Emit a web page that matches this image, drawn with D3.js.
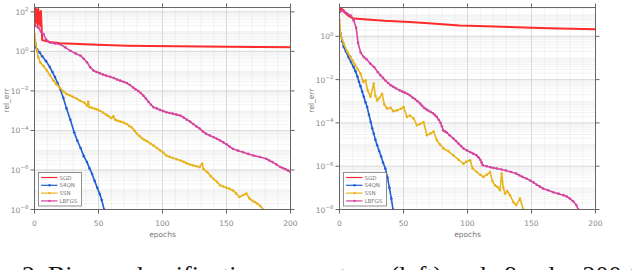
<!DOCTYPE html>
<html>
<head>
<meta charset="utf-8">
<script src="https://cdn.jsdelivr.net/npm/d3@7"></script>
<style>
	body { margin: 0; background: #fff; }
	svg text { font-family: "DejaVu Sans", sans-serif; }
	svg text.caption { font-family: "Liberation Serif", serif; }
</style>
</head>
<body>
<div id="chart-area"></div>
<script>

// SVG Size
let width = 632,
	height = 270;

// series names + colours (legend order)
let methods = ["SGD", "S4QN", "SSN", "LBFGS"];
let colors = ["#ff2a2a", "#1f5fd6", "#e8b41c", "#d5469f"];

// x ticks (epochs)
let xTicks = [0, 50, 100, 150, 200];

// left panel, [epoch, rel_err]
let sgdLeft = [[0,150],[0.5,22],[1,160],[1.5,30],[2,120],[2.5,21],[3,140],[3.5,26],[4,95],[4.5,20],[5,110],[5.5,21],
	[6,3.7],[9,3.3],[12,3.0],[20,2.6],[30,2.45],[40,2.3],[55,2.1],[73,1.95],[90,1.85],[110,1.8],[130,1.75],[150,1.7],[175,1.65],[200,1.6]];
let saqnLeft = [[0,2.0],[2,1.26],[4,0.89],[6,0.56],[9,0.32],[12,0.16],[14,0.09],[16,0.05],[18,0.025],[20,0.0126],[22.5,0.0045],[25,1.3e-3],
	[28,3.5e-4],[31,8e-5],[33.5,3e-5],[36,1.3e-5],[38.5,5e-6],[41,2.5e-6],[43,1.2e-6],[45,6.3e-7],[47,2.8e-7],[49,1.26e-7],[51,6e-8],[52.5,3e-8],[54.4,1e-8]];
let ssnLeft = [[0,7.6],[1,2.5],[2,1.07],[3,0.5],[4.4,0.28],[7,0.18],[9.7,0.107],[12,0.063],[14.8,0.033],[17,0.022],[20,0.014],[22.5,0.0095],
	[25,0.007],[27.5,0.006],[30,0.005],[33,0.004],[35.6,0.0032],[39,0.0025],[41,0.0018],[42,0.0028],[43,0.0015],[45,0.0014],[47,0.00126],[49,0.00115],
	[51,0.001],[53.5,8e-4],[56,6.3e-4],[58,5.2e-4],[60,4.2e-4],[61.6,5.2e-4],[63,3.5e-4],[65,3.1e-4],[67,2.8e-4],[69.5,2.5e-4],[72,2.1e-4],[74,1.7e-4],
	[76,1.4e-4],[78,1e-4],[80,6.8e-5],[82,5.2e-5],[84,4e-5],[86,3.3e-5],[88,2.8e-5],[90.5,2.2e-5],[93,1.7e-5],[95.5,1.3e-5],[98,1e-5],[100.5,7.5e-6],
	[103,5.4e-6],[105.5,4.6e-6],[108,4e-6],[111,3.5e-6],[114,3e-6],[116.5,2.6e-6],[119,2.2e-6],[121.5,1.9e-6],[124,1.7e-6],[126.5,1.55e-6],[129,1.4e-6],
	[131,2.1e-6],[132,1.1e-6],[135,7.8e-7],[137.5,5e-7],[140,3.5e-7],[142.5,2.5e-7],[145,1.7e-7],[147.5,1.45e-7],[150,1.26e-7],[152.5,1.1e-7],
	[155,9.3e-8],[157.5,6.5e-8],[160,4.3e-8],[163,5.4e-8],[165.5,6.5e-8],[168,3.6e-8],[170,2.8e-8],[172,2.4e-8],[174,2e-8],[176.5,1.5e-8],[178.6,1e-8]];
let lbfgsLeft = [[0,20],[3,16],[5,10],[7,7.6],[9,4],[12,2.8],[16,2.5],[20,2.3],[24,1.6],[28,1.07],[32,0.79],[36,0.6],[38.5,0.42],[41,0.28],
	[43.5,0.16],[46,0.107],[48.5,0.09],[51,0.079],[53.5,0.068],[56,0.059],[59,0.052],[62,0.045],[64.5,0.038],[67,0.033],[69.5,0.029],[72,0.025],
	[74.5,0.02],[77,0.015],[79,0.012],[81,0.01],[83,0.0078],[85,0.0058],[87,0.0041],[89,0.0028],[91,0.002],[93,0.0015],[95.5,0.0013],[98,0.0011],
	[100.5,9.5e-4],[103,8.3e-4],[105.5,7.6e-4],[108,7.1e-4],[111,6.3e-4],[114,5.6e-4],[116.5,4.5e-4],[119,3.5e-4],[121.5,2.8e-4],[124,2.1e-4],
	[126.5,1.6e-4],[129,1.26e-4],[131.5,9e-5],[134,6.8e-5],[137,5.5e-5],[140,4.5e-5],[142.5,3.8e-5],[145,3.1e-5],[147.5,2.5e-5],[150,2e-5],
	[152.5,1.5e-5],[155,1.17e-5],[159,9.5e-6],[163,7.9e-6],[167,6.5e-6],[171,5.4e-6],[176,4.5e-6],[181,3.7e-6],[183.5,3e-6],[186,2.5e-6],
	[189,1.9e-6],[192,1.4e-6],[194,1.25e-6],[196,1.1e-6],[198,9.5e-7],[200,7.8e-7]];

// right panel, [epoch, rel_err]
let sgdRight = [[0,13],[1,21],[2,18],[4,12.6],[7,8.9],[11,6.6],[19,6.2],[35,5.2],[55,4.6],[75,3.8],[94,3.2],[115,2.95],[133,2.7],
	[150,2.5],[172,2.3],[200,2.1]];
let saqnRight = [[0,2.0],[1,1.3],[2,0.6],[3.3,0.32],[5,0.2],[7,0.11],[9,0.065],[11,0.038],[12.5,0.024],[14,0.014],[15.2,0.008],[16.4,0.005],
	[17.7,0.0028],[19,1.6e-3],[20.3,9e-4],[21.6,5.4e-4],[23,2.4e-4],[24.4,1.1e-4],[25.6,5.5e-5],[26.8,3.2e-5],[28,1.7e-5],[29.4,9.3e-6],
	[31,5e-6],[32.5,2.8e-6],[34,1.5e-6],[35.8,7.8e-7],[37.5,3e-7],[39,1e-7],[40.5,3.2e-8],[41.8,1e-8]];
let ssnRight = [[0,5.5],[0.8,1.32],[2,0.71],[3.3,0.46],[6,0.2],[8.6,0.112],[10.3,0.075],[12,0.05],[14,0.032],[16.4,0.019],[18.5,0.0078],
	[20.3,0.0093],[22,0.0032],[24.2,0.0016],[26.7,0.0066],[28,0.0018],[29.4,0.0011],[31,0.0014],[33.3,0.0022],[35,7.1e-4],[37.2,4.6e-4],
	[40,5e-4],[42,3.5e-4],[45,3.8e-4],[48,4.5e-4],[50.1,5.4e-4],[52.7,1.9e-4],[55,2.2e-4],[57.9,1.6e-4],[60.5,7.8e-5],[63,8.9e-5],[65.7,1.1e-4],
	[68.3,2.7e-5],[70.9,3.2e-5],[73.5,4e-5],[76,1.6e-5],[78.5,1e-5],[81.3,6.5e-6],[85,5e-6],[89,3.2e-6],[93,2e-6],[96.8,1.3e-6],[99,1.6e-6],
	[102.1,1.9e-6],[104,7.9e-7],[107.3,5.4e-7],[110,4e-7],[112.4,3.2e-7],[115,4e-7],[117.6,5.4e-7],[119.5,2e-7],[121.5,1.3e-7],[123.5,1.1e-7],
	[125.4,7.8e-8],[126.7,4.6e-7],[128,1e-7],[129.3,5.4e-8],[131,7.1e-8],[133.2,4.6e-8],[135.8,2.2e-8],[138,1.6e-8],[141,3.2e-8],[143.6,1e-8]];
let lbfgsRight = [[0,13],[3,16],[6,11.2],[9,8.9],[11,5.6],[13,2.5],[14.5,0.5],[16.5,0.18],[19,0.11],[21,0.089],[24,0.056],[27,0.038],
	[30,0.022],[32,0.016],[34,0.012],[36,0.0089],[38,0.007],[40,0.0055],[42,0.0047],[44,0.004],[47,0.0032],[49,0.0028],[51,0.0025],[53,0.0022],
	[55,0.0019],[57,0.0015],[59,0.00126],[61,0.001],[63,7.8e-4],[64.5,6.2e-4],[66,5e-4],[67.5,4.4e-4],[69,3.8e-4],[71,3.3e-4],[73,2.8e-4],
	[74.5,2.3e-4],[76,1.9e-4],[77.5,1.4e-4],[79,1e-4],[80,7e-5],[81,4.6e-5],[82.5,4e-5],[84,3.5e-5],[86,2.7e-5],[89,1.9e-5],[91,1.45e-5],
	[93,1.1e-5],[95,8.5e-6],[97,6.5e-6],[99.5,5.4e-6],[102,4.5e-6],[104.5,3.8e-6],[107,3.2e-6],[108.5,2.6e-6],[110,2e-6],[111,1.5e-6],
	[112,1.1e-6],[115,1e-6],[118,8.9e-7],[120.5,8.3e-7],[123,7.8e-7],[126.5,7e-7],[130,6.3e-7],[134,5.4e-7],[138,4.6e-7],[140.5,3.8e-7],
	[143,3.2e-7],[146,2.7e-7],[149,2.2e-7],[151.5,1.8e-7],[154,1.4e-7],[156.5,1.15e-7],[159,9.3e-8],[163,7.8e-8],[167,6.3e-8],[171,5.4e-8],
	[175,4.6e-8],[177.5,4e-8],[180,3.2e-8],[182.5,2.4e-8],[185,1.6e-8],[186.5,1e-8]];

let panels = [
	{ left: 34.5, right: 290.5, top: 7.5, bottom: 209.5, yMax: 166, yTicks: [1e2, 1e0, 1e-2, 1e-4, 1e-6, 1e-8],
		series: [sgdLeft, saqnLeft, ssnLeft, lbfgsLeft], labelX: 9 },
	{ left: 339.5, right: 595.5, top: 7.5, bottom: 209.5, yMax: 21.5, yTicks: [1e0, 1e-2, 1e-4, 1e-6, 1e-8],
		series: [sgdRight, saqnRight, ssnRight, lbfgsRight], labelX: 314 }
];

let svg = d3.select("#chart-area").append("svg")
	.attr("width", width)
	.attr("height", height);

panels.forEach((p, pi) => {
	let g = svg.append("g");

	let XScale = d3.scaleLinear()
		.domain([0, 200])
		.range([p.left, p.right]);
	let YScale = d3.scaleLog()
		.domain([1e-8, p.yMax])
		.range([p.bottom, p.top]);

	// minor grid
	let minorY = [];
	for (let e = -8; e <= 2; e++) {
		for (let k = 1; k < 10; k++) {
			let v = k * Math.pow(10, e);
			if (v >= 1e-8 && v <= p.yMax) minorY.push(v);
		}
	}
	g.selectAll(".gy").data(minorY).enter().append("line")
		.attr("x1", p.left).attr("x2", p.right)
		.attr("y1", d => YScale(d)).attr("y2", d => YScale(d))
		.attr("stroke", "#d6d6d6").attr("stroke-width", 0.6)
		.attr("stroke-dasharray", "1,1");
	let minorX = d3.range(10, 200, 10);
	g.selectAll(".gx").data(minorX).enter().append("line")
		.attr("y1", p.top).attr("y2", p.bottom)
		.attr("x1", d => XScale(d)).attr("x2", d => XScale(d))
		.attr("stroke", "#d6d6d6").attr("stroke-width", 0.6)
		.attr("stroke-dasharray", "1,1");
	// major grid
	g.selectAll(".My").data(p.yTicks).enter().append("line")
		.attr("x1", p.left).attr("x2", p.right)
		.attr("y1", d => YScale(d)).attr("y2", d => YScale(d))
		.attr("stroke", "#d0d0d0").attr("stroke-width", 0.7);
	g.selectAll(".Mx").data([50, 100, 150]).enter().append("line")
		.attr("y1", p.top).attr("y2", p.bottom)
		.attr("x1", d => XScale(d)).attr("x2", d => XScale(d))
		.attr("stroke", "#d0d0d0").attr("stroke-width", 0.7);

	// lines
	let clipId = "clip" + pi;
	svg.append("clipPath").attr("id", clipId).append("rect")
		.attr("x", p.left).attr("y", p.top)
		.attr("width", p.right - p.left).attr("height", p.bottom - p.top);
	let plot = g.append("g").attr("clip-path", "url(#" + clipId + ")");
	let line = d3.line()
		.x(d => XScale(d[0]))
		.y(d => YScale(d[1]));

	p.series.forEach((s, si) => {
		plot.append("path")
			.datum(s)
			.attr("d", line)
			.attr("fill", "none")
			.attr("stroke", colors[si])
			.attr("stroke-width", si === 0 ? 2 : 1.6)
			.attr("stroke-linejoin", "round");
		if (si > 0) {
			plot.selectAll(".m" + si).data(s).enter().append("circle")
				.attr("cx", d => XScale(d[0]))
				.attr("cy", d => YScale(d[1]))
				.attr("r", 1.3)
				.attr("fill", colors[si]);
		}
	});

	// box
	g.append("rect")
		.attr("x", p.left).attr("y", p.top)
		.attr("width", p.right - p.left).attr("height", p.bottom - p.top)
		.attr("fill", "none").attr("stroke", "#666").attr("stroke-width", 1);

	// ticks (outside, all four sides)
	xTicks.forEach(t => {
		let x = XScale(t);
		g.append("line").attr("x1", x).attr("x2", x).attr("y1", p.bottom).attr("y2", p.bottom + 4)
			.attr("stroke", "#666");
		g.append("line").attr("x1", x).attr("x2", x).attr("y1", p.top).attr("y2", p.top - 4)
			.attr("stroke", "#666");
		g.append("text")
			.attr("x", x).attr("y", p.bottom + 16)
			.attr("text-anchor", "middle")
			.attr("font-size", 7.5).attr("fill", "#888")
			.text(t);
	});
	p.yTicks.forEach(t => {
		let y = YScale(t);
		g.append("line").attr("x1", p.left - 4).attr("x2", p.left).attr("y1", y).attr("y2", y)
			.attr("stroke", "#666");
		g.append("line").attr("x1", p.right).attr("x2", p.right + 4).attr("y1", y).attr("y2", y)
			.attr("stroke", "#666");
		let e = Math.round(Math.log10(t));
		let lbl = g.append("text")
			.attr("x", p.left - 6).attr("y", y + 3)
			.attr("text-anchor", "end")
			.attr("font-size", 7.5).attr("fill", "#888");
		lbl.append("tspan").text("10");
		lbl.append("tspan").attr("font-size", 5.5).attr("dy", -3.5)
			.text((e < 0 ? "\u2212" : "") + Math.abs(e));
	});

	// axis labels
	g.append("text")
		.attr("x", (p.left + p.right) / 2).attr("y", p.bottom + 27)
		.attr("text-anchor", "middle")
		.attr("font-size", 7.5).attr("fill", "#777")
		.text("epochs");
	g.append("text")
		.attr("transform", "translate(" + p.labelX + "," + ((p.top + p.bottom) / 2 - 8) + ") rotate(-90)")
		.attr("text-anchor", "middle")
		.attr("font-size", 7.5).attr("fill", "#777")
		.text("rel_err");

	// legend
	let lx = p.left + 4, ly = 172.5;
	let leg = g.append("g");
	leg.append("rect")
		.attr("x", lx).attr("y", ly)
		.attr("width", 43).attr("height", 33.5)
		.attr("fill", "#fff").attr("stroke", "#777").attr("stroke-width", 0.8);
	methods.forEach((m, i) => {
		let yy = ly + 5 + i * 7.8;
		leg.append("line")
			.attr("x1", lx + 2.5).attr("x2", lx + 19)
			.attr("y1", yy).attr("y2", yy)
			.attr("stroke", colors[i]).attr("stroke-width", 1.2);
		if (i > 0) {
			leg.append("circle").attr("cx", lx + 11).attr("cy", yy).attr("r", 1.2).attr("fill", colors[i]);
		}
		leg.append("text")
			.attr("x", lx + 21).attr("y", yy + 2)
			.attr("font-size", 5.5).attr("fill", "#777")
			.text(m);
	});
});

// caption, cut off by the bottom edge as in the source figure
svg.append("text")
	.attr("class", "caption")
	.attr("x", 22).attr("y", 284)
	.attr("font-size", 26).attr("fill", "#111")
	.text("2. Binary classification on covtype (left) and a9a, d = 200 (right)");

</script>
</body>
</html>
